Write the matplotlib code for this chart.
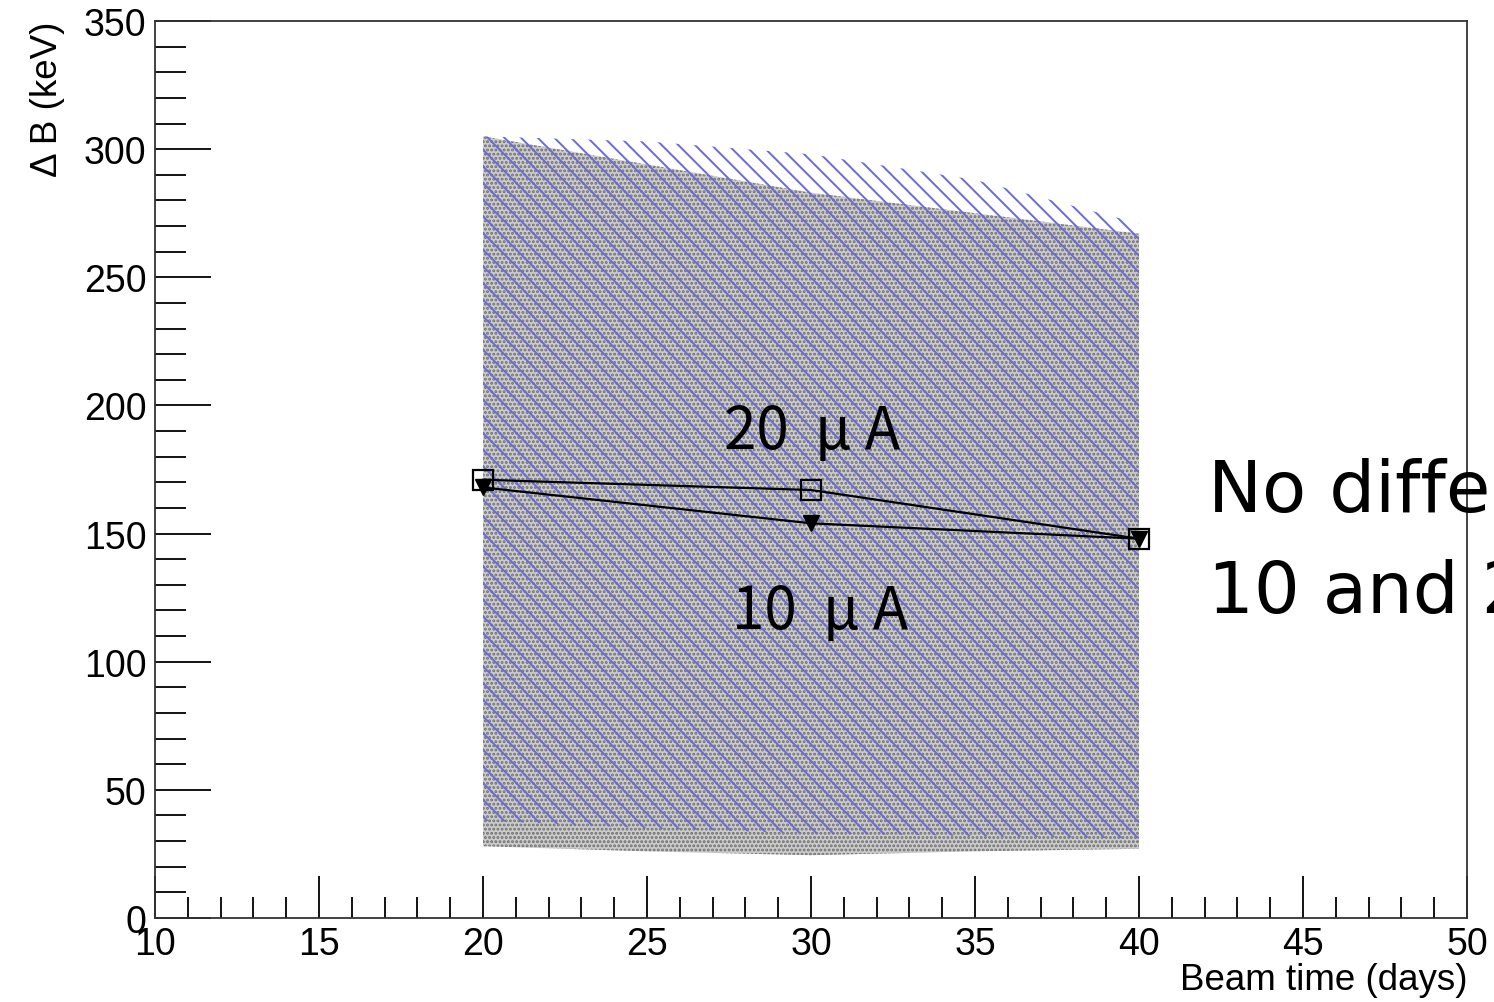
import matplotlib
matplotlib.use("Agg")
import matplotlib.pyplot as plt
from matplotlib.ticker import MultipleLocator

# ---- data ----
band_x = [20, 25, 30, 35, 40]
gray_upper = [305, 294, 283, 275, 267]
gray_lower = [28, 26, 24.5, 26, 27]
blue_upper = [305, 303, 298, 288, 271]
blue_lower = [38, 35, 33, 32, 31]

days = [20, 30, 40]
db_20uA = [171, 167, 148]
db_10uA = [168, 154, 148]

plt.rcParams['font.family'] = ['Liberation Sans', 'DejaVu Sans']
plt.rcParams['hatch.linewidth'] = 1.4

fig = plt.figure(figsize=(14.94, 10.03), dpi=100)
ax = fig.add_axes([155/1494, 1-919/1003, (1467-155)/1494, (919-22)/1003])

ax.fill_between(band_x, gray_lower, gray_upper, facecolor='#cccccc',
                edgecolor='#6e6e6e', hatch='....', linewidth=0, zorder=1)
ax.fill_between(band_x, blue_lower, blue_upper, facecolor='none',
                edgecolor='#6a6ad8', hatch='\\\\', linewidth=0, zorder=2)

ax.plot(days, db_20uA, color='black', lw=1.6, marker='s', ms=14,
        mfc='none', mec='black', mew=1.6, zorder=4)
ax.plot(days, db_10uA, color='black', lw=1.6, marker='v', ms=11,
        mfc='black', mec='black', zorder=4)

jp = ['Noto Sans CJK JP', 'DejaVu Sans']
dv = ['DejaVu Sans', 'Noto Sans CJK JP']
fig.text(812/1494, 1-449/1003, '20  μ A', family=jp, fontsize=42,
         ha='center', va='baseline')
fig.text(820/1494, 1-629/1003, '10  μ A', family=jp, fontsize=42,
         ha='center', va='baseline')
fig.text(1208/1494, 1-512/1003, 'No difference between', family=dv,
         fontsize=52, ha='left', va='baseline')
fig.text(1208/1494, 1-613/1003, '10 and 20 μA', family=dv,
         fontsize=52, ha='left', va='baseline')

ax.set_xlim(10, 50)
ax.set_ylim(0, 350)
ax.xaxis.set_major_locator(MultipleLocator(5))
ax.xaxis.set_minor_locator(MultipleLocator(1))
ax.yaxis.set_major_locator(MultipleLocator(50))
ax.yaxis.set_minor_locator(MultipleLocator(10))
ax.tick_params(axis='both', which='both', direction='in', top=False, right=False,
               labelsize=27, width=1.3)
ax.tick_params(axis='x', which='major', length=30, pad=6)
ax.tick_params(axis='x', which='minor', length=15)
ax.tick_params(axis='y', which='major', length=40, pad=6)
ax.tick_params(axis='y', which='minor', length=22)
for s in ax.spines.values():
    s.set_linewidth(1.3)
    s.set_color('#333333')

ax.set_xlabel('Beam time (days)', fontsize=26.5, loc='right', labelpad=0)
ax.set_ylabel('Δ B (keV)', fontsize=26.5, loc='top', labelpad=14)

fig.savefig('out.png', dpi=100)
